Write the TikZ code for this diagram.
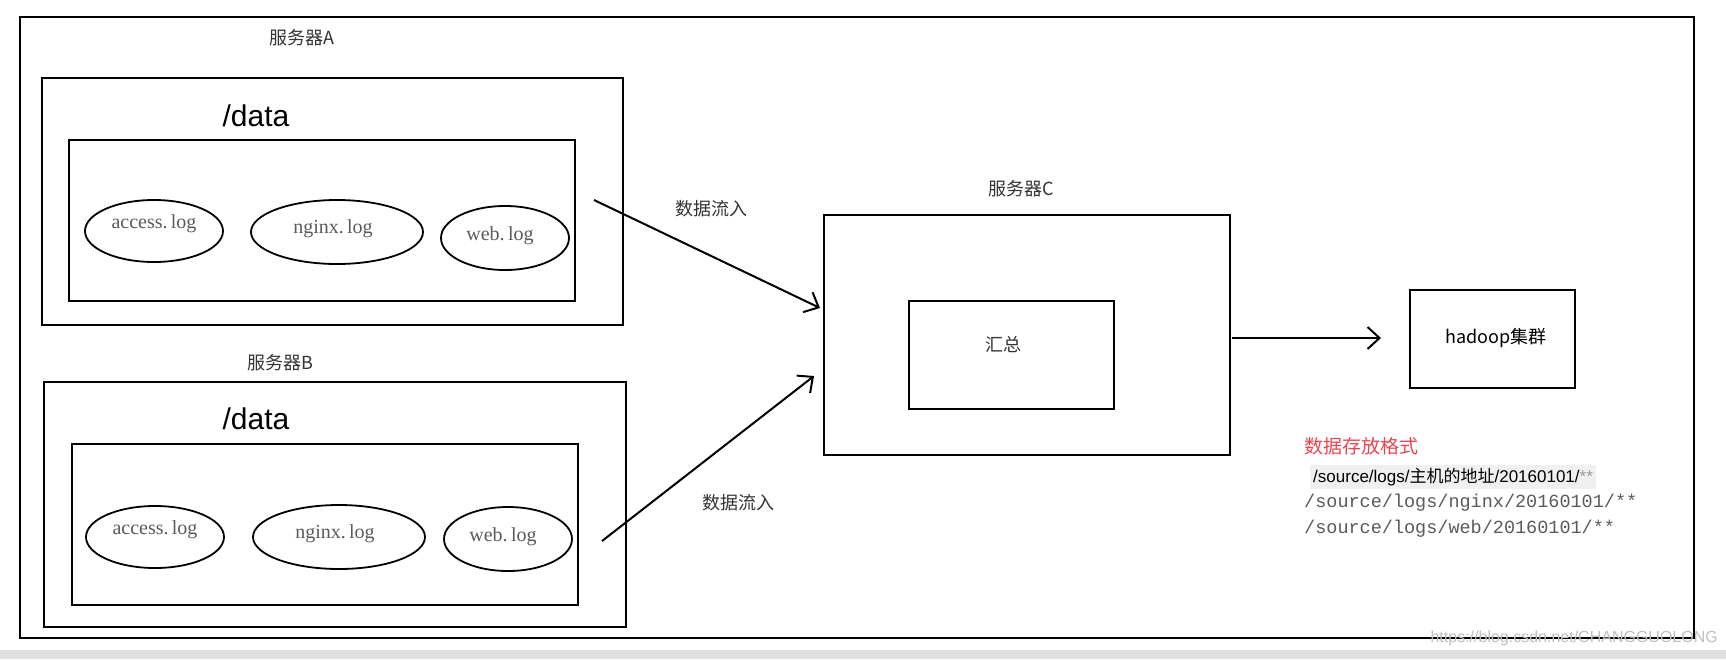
\documentclass[tikz,border=0pt]{standalone}
\usepackage{fontspec}
\setmainfont{Liberation Serif}
\newfontfamily\cjk{Noto Sans CJK SC}
\newfontfamily\sansf{Liberation Sans}
\newfontfamily\monof{Liberation Mono}
\usetikzlibrary{arrows.meta}
\definecolor{wred}{RGB}{235,70,80}
\definecolor{tgray}{RGB}{90,90,90}
\begin{document}
\begin{tikzpicture}[x=1pt,y=-1pt,
  box/.style={draw,line width=2pt},
  lt/.style={font=\fontsize{20}{20}\selectfont,text=tgray},
  lbl/.style={font=\cjk\fontsize{18}{18}\selectfont,text=black!80},
  flow/.style={line width=2pt,-{Straight Barb[length=12pt,width=22pt,line width=2pt]}},
  dat/.style={font=\sansf\fontsize{30}{30}\selectfont}]
\useasboundingbox (0,0) rectangle (1726,659);
\fill[white] (0,0) rectangle (1726,659);
\fill[black!12] (0,650) rectangle (1726,659);
\draw[line width=1.5pt] (20,17) rectangle (1694,638);
% server A
\node[lbl] (la) at (302,38) {服务器A};
\draw[box] (42,78) rectangle (623,325);
\coordinate (aE) at (594,200);
\node[dat] (da) at (256,116) {/data};
\draw[box] (69,140) rectangle (575,301);
\draw[line width=1.8pt] (154,231) ellipse [x radius=69,y radius=31];
\node[lt] (a1) at (154,224) {access.\,log};
\draw[line width=1.8pt] (337,232) ellipse [x radius=86,y radius=32];
\node[lt] (a2) at (333,229) {nginx.\,log};
\draw[line width=1.8pt] (505,238) ellipse [x radius=64,y radius=32];
\node[lt] (a3) at (500,236) {web.\,log};
% server B
\node[lbl] (lb) at (280,363) {服务器B};
\draw[box] (44,382) rectangle (626,627);
\coordinate (bE) at (602,541);
\node[dat] (db) at (256,419) {/data};
\draw[box] (72,444) rectangle (578,605);
\draw[line width=1.8pt] (155,537) ellipse [x radius=69,y radius=31];
\node[lt] (b1) at (155,530) {access.\,log};
\draw[line width=1.8pt] (339,537) ellipse [x radius=86,y radius=32];
\node[lt] (b2) at (335,534) {nginx.\,log};
\draw[line width=1.8pt] (508,539) ellipse [x radius=64,y radius=32];
\node[lt] (b3) at (503,537) {web.\,log};
% server C
\node[lbl] (lc) at (1021,189) {服务器C};
\draw[box] (824,215) rectangle (1230,455);
\draw[box] (909,301) rectangle (1114,409);
\node[lbl] (hz) at (1003,345) {汇总};
\coordinate (cA) at (820,308);
\coordinate (cB) at (814,376);
\coordinate (cR) at (1232,338);
% hadoop
\draw[box] (1410,290) rectangle (1575,388);
\node[font=\cjk\fontsize{18}{18}\selectfont] (hd) at (1496,338) {hadoop集群};
\coordinate (hL) at (1381,338);
% arrows
\draw[flow] (aE) -- (cA);
\draw[flow] (bE) -- (cB);
\draw[flow] (cR) -- (hL);
\node[lbl] (f1) at (711,209) {数据流入};
\node[lbl] (f2) at (738,503) {数据流入};
% format text
\node[anchor=west,font=\cjk\fontsize{19}{19}\selectfont,text=wred,inner sep=0pt] (fmt) at (1304,446) {数据存放格式};
\node[anchor=west,fill=black!6,inner sep=3pt,font=\sansf\fontsize{17}{17}\selectfont] (p1) at (1310,477) {/source/logs/{\cjk 主机的地址}/20160101/{\color{black!40}**}};
\node[anchor=west,inner sep=0pt,font=\monof\fontsize{18.5}{18.5}\selectfont,text=tgray] (p2) at (1304,503) {/source/logs/nginx/20160101/**};
\node[anchor=west,inner sep=0pt,font=\monof\fontsize{18.5}{18.5}\selectfont,text=tgray] (p3) at (1304,529) {/source/logs/web/20160101/**};
\node[anchor=east,inner sep=0pt,font=\sansf\fontsize{16}{16}\selectfont,text=black!25] (wm) at (1718,638) {https://blog.csdn.net/CHANGGUOLONG};
\end{tikzpicture}
\end{document}
